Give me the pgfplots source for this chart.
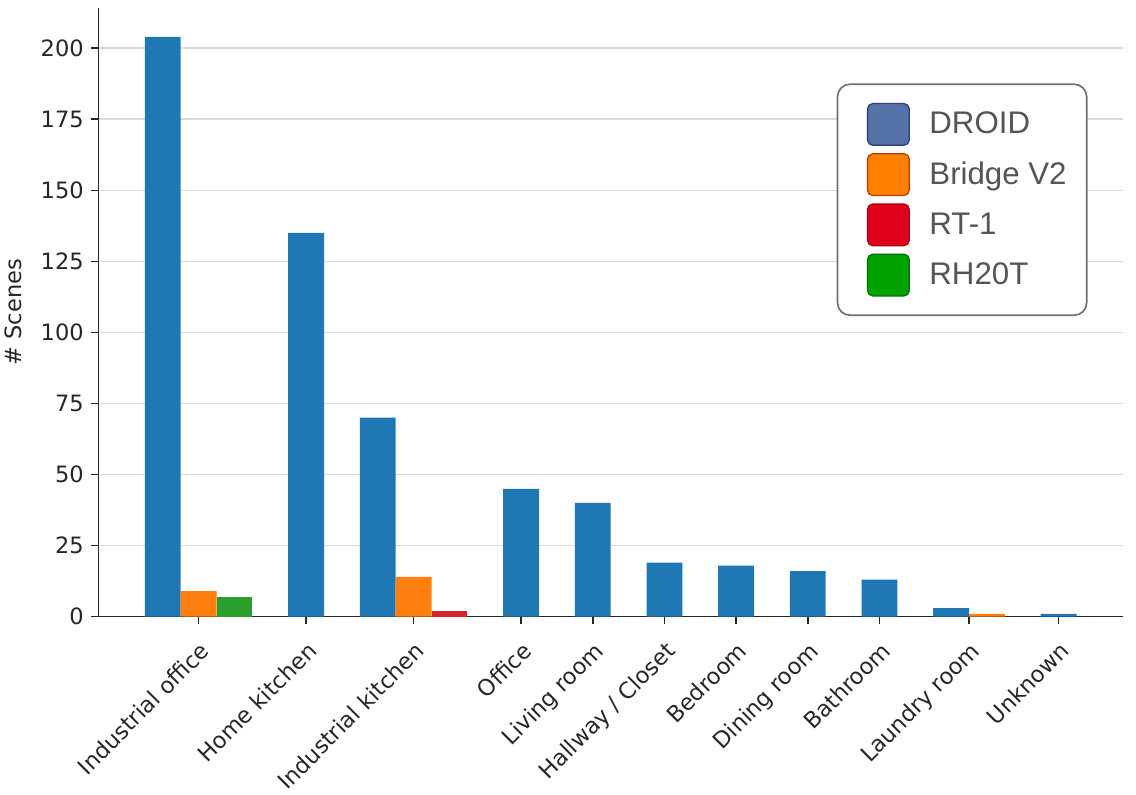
\documentclass[border=0pt]{standalone}
\usepackage{fontspec}
\setmainfont{DejaVu Sans}
\newfontfamily\legfont{Liberation Sans}
\usepackage{pgfplots}
\pgfplotsset{compat=1.18}
\usepackage{pgfplotstable}
\definecolor{tabblue}{HTML}{1F77B4}
\definecolor{taborange}{HTML}{FF7F0E}
\definecolor{tabgreen}{HTML}{2CA02C}
\definecolor{tabred}{HTML}{D62728}
\definecolor{legdroid}{HTML}{5572A9}
\definecolor{legdroidb}{HTML}{2A3F6E}
\definecolor{legbridge}{HTML}{FF7F00}
\definecolor{legbridgeb}{HTML}{B83A00}
\definecolor{legrt}{HTML}{E0001A}
\definecolor{legrtb}{HTML}{A8001A}
\definecolor{legrh}{HTML}{00A300}
\definecolor{legrhb}{HTML}{006B00}
\definecolor{leggray}{HTML}{555555}
\definecolor{legborder}{HTML}{707070}

% x = bar position (one unit = one bar width), y = number of scenes
\pgfplotstableread{
x y
0 204
4 135
6 70
10 45
12 40
14 19
16 18
18 16
20 13
22 3
25 1
}\droid
\pgfplotstableread{
x y
1 9
7 14
23 1
}\bridge
\pgfplotstableread{
x y
8 2
}\rtone
\pgfplotstableread{
x y
2 7
}\rhtwenty

\begin{document}
\begin{tikzpicture}
\path[use as bounding box] (0,0) rectangle (545.28pt,381.6pt);
\begin{axis}[
  at={(47.2pt,85.6pt)}, anchor=south west,
  scale only axis, width=491.9pt, height=292.2pt,
  xmin=-1.8, xmax=26.8, ymin=0, ymax=214.2,
  axis x line*=bottom, axis y line*=left,
  axis line style={line width=0.8pt, black!85},
  tick align=outside, major tick length=3.5pt,
  tick style={line width=0.8pt, black!85},
  xtick={1,4,7,10,12,14,16,18,20,22.5,25},
  xticklabels={Industrial office, Home kitchen, Industrial kitchen, Office, Living room, Hallway / Closet, Bedroom, Dining room, Bathroom, Laundry room, Unknown},
  xticklabel shift=3pt,
  xticklabel style={rotate=45, anchor=north east, font=\fontsize{10.8}{13}\selectfont, text=black!85},
  ytick={0,25,50,75,100,125,150,175,200},
  yticklabel style={font=\fontsize{10.8}{13}\selectfont, text=black!85},
  /pgf/number format/assume math mode=true,
  ymajorgrids=true,
  grid style={line width=0.8pt, black!14},
  ylabel={\# Scenes},
  ylabel shift=2pt,
  ylabel style={font=\fontsize{10.8}{13}\selectfont, text=black!85},
  legend cell align=left,
  legend style={at={(rel axis cs:0.7205,0.876)}, anchor=north west,
    draw=legborder, line width=0.8pt, rounded corners=6pt, fill=white,
    inner xsep=9.6pt, inner ysep=9pt, row sep=3.5pt, column sep=9.4pt,
    nodes={inner sep=0pt, text=leggray},
    font=\legfont\fontsize{15}{18}\selectfont},
]
\addplot[ybar, bar width=1, bar shift=0pt, fill=tabblue, draw=none, forget plot] table[x=x,y=y]{\droid};
\addplot[ybar, bar width=1, bar shift=0pt, fill=taborange, draw=none, forget plot] table[x=x,y=y]{\bridge};
\addplot[ybar, bar width=1, bar shift=0pt, fill=tabred, draw=none, forget plot] table[x=x,y=y]{\rtone};
\addplot[ybar, bar width=1, bar shift=0pt, fill=tabgreen, draw=none, forget plot] table[x=x,y=y]{\rhtwenty};
\addlegendimage{legend image code/.code={\path (0pt,0pt); \filldraw[fill=legdroid, draw=legdroidb, line width=0.6pt, rounded corners=2.5pt] (4.4pt,-10pt) rectangle (24.4pt,10pt);}}
\addlegendentry{DROID}
\addlegendimage{legend image code/.code={\path (0pt,0pt); \filldraw[fill=legbridge, draw=legbridgeb, line width=0.6pt, rounded corners=2.5pt] (4.4pt,-10pt) rectangle (24.4pt,10pt);}}
\addlegendentry{Bridge V2}
\addlegendimage{legend image code/.code={\path (0pt,0pt); \filldraw[fill=legrt, draw=legrtb, line width=0.6pt, rounded corners=2.5pt] (4.4pt,-10pt) rectangle (24.4pt,10pt);}}
\addlegendentry{RT-1}
\addlegendimage{legend image code/.code={\path (0pt,0pt); \filldraw[fill=legrh, draw=legrhb, line width=0.6pt, rounded corners=2.5pt] (4.4pt,-10pt) rectangle (24.4pt,10pt);}}
\addlegendentry{RH20T}
\end{axis}
\end{tikzpicture}
\end{document}
